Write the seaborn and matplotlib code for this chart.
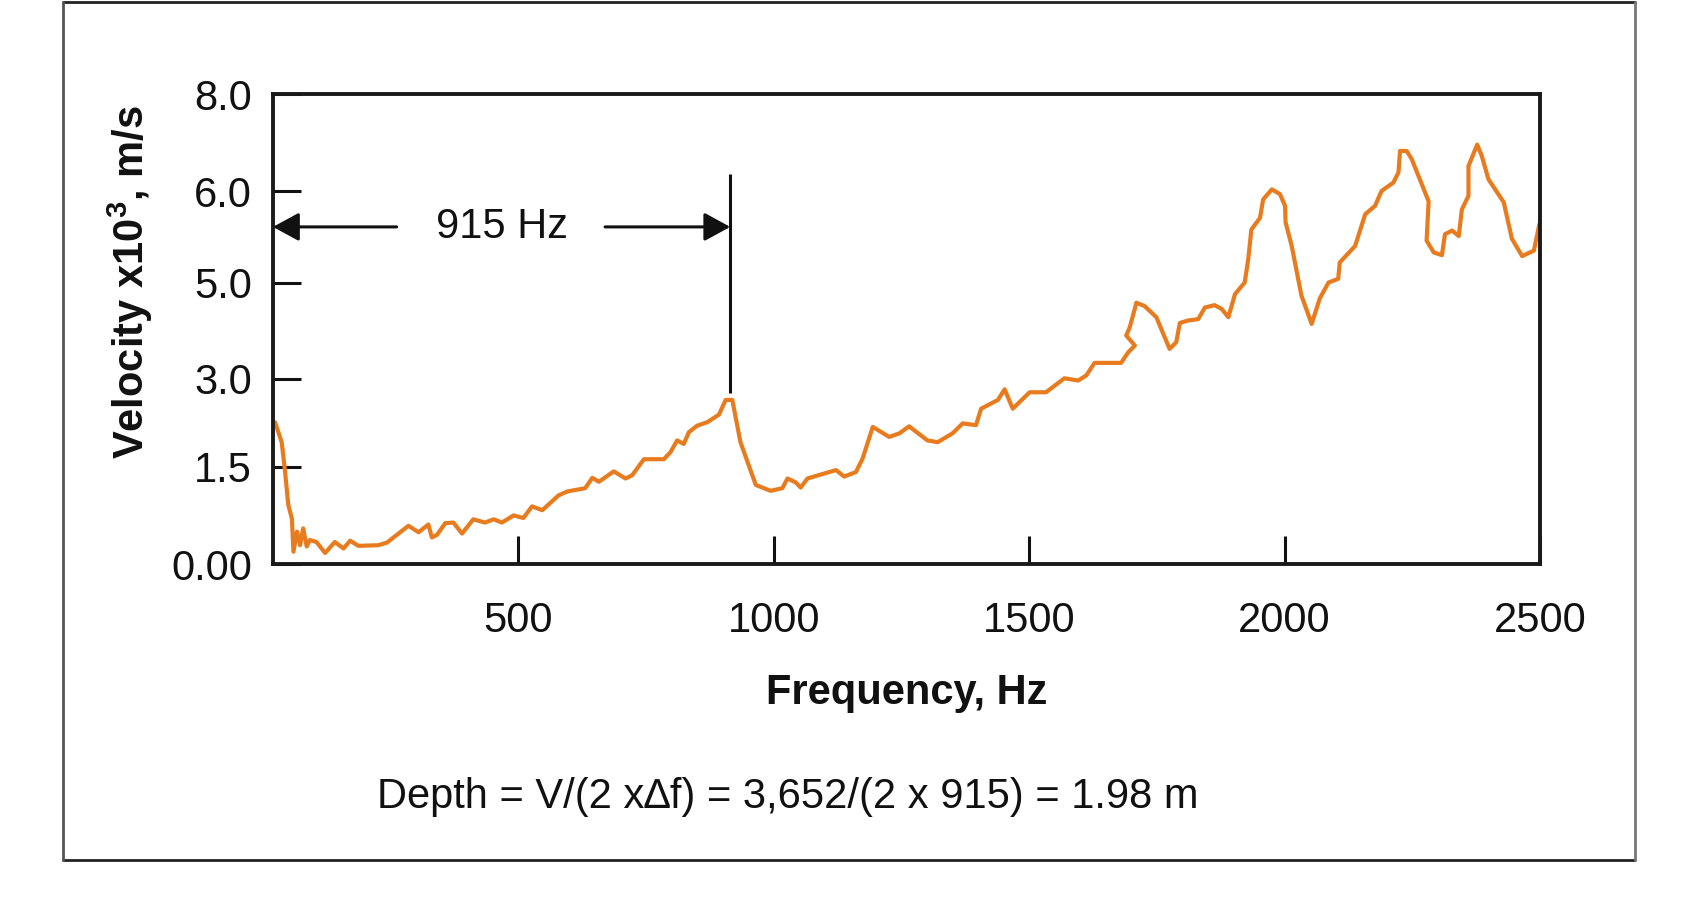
import numpy as np
import seaborn as sns
import matplotlib.pyplot as plt
from matplotlib.lines import Line2D

# curve (Hz, x10^3 m/s)
freq = [24, 37, 43, 50, 57, 60, 67, 73, 79, 86, 92, 105, 122, 141, 158, 171, 187,
        226, 243, 285, 305, 324, 331, 341, 357, 373, 390, 412, 435, 452, 468, 491,
        510, 527, 547, 579, 596, 631, 645, 658, 687, 710, 723, 746, 785, 798, 811,
        824, 834, 850, 870, 893, 906, 919, 935, 965, 994, 1017, 1027, 1043, 1053,
        1066, 1092, 1122, 1138, 1161, 1174, 1194, 1226, 1246, 1265, 1301, 1321,
        1350, 1370, 1396, 1406, 1439, 1452, 1468, 1501, 1533, 1569, 1596, 1612,
        1628, 1680, 1694, 1707, 1690, 1697, 1710, 1726, 1749, 1775, 1788, 1795,
        1811, 1831, 1844, 1863, 1877, 1890, 1903, 1922, 1929, 1935, 1952, 1958,
        1975, 1991, 2001, 2002, 2014, 2033, 2053, 2069, 2086, 2105, 2108, 2138,
        2158, 2177, 2190, 2213, 2223, 2226, 2239, 2249, 2282, 2278, 2292, 2308,
        2314, 2328, 2341, 2347, 2360, 2360, 2377, 2386, 2399, 2429, 2445, 2465,
        2488, 2498, 2507]
velocity = [2.26, 1.92, 1.47, 0.91, 0.70, 0.19, 0.50, 0.29, 0.55, 0.27, 0.37, 0.34,
            0.17, 0.34, 0.24, 0.36, 0.28, 0.29, 0.33, 0.59, 0.49, 0.61, 0.41, 0.45,
            0.63, 0.64, 0.47, 0.69, 0.64, 0.69, 0.64, 0.75, 0.71, 0.89, 0.83, 1.06,
            1.12, 1.17, 1.33, 1.27, 1.43, 1.32, 1.37, 1.63, 1.63, 1.75, 1.95, 1.89,
            2.09, 2.20, 2.26, 2.39, 2.64, 2.64, 1.92, 1.22, 1.13, 1.17, 1.32, 1.26,
            1.18, 1.32, 1.38, 1.45, 1.35, 1.42, 1.64, 2.18, 2.01, 2.07, 2.19, 1.95,
            1.92, 2.07, 2.24, 2.21, 2.49, 2.64, 2.82, 2.49, 2.77, 2.77, 3.01, 2.97,
            3.07, 3.33, 3.33, 3.55, 3.69, 3.90, 4.07, 4.58, 4.51, 4.28, 3.62, 3.76,
            4.16, 4.21, 4.24, 4.48, 4.53, 4.45, 4.28, 4.76, 5.00, 5.26, 5.58, 5.71,
            5.91, 6.04, 5.97, 5.84, 5.66, 5.40, 4.73, 4.14, 4.67, 5.00, 5.04, 5.22,
            5.40, 5.75, 5.84, 6.01, 6.18, 6.39, 6.83, 6.83, 6.66, 5.89, 5.46, 5.33,
            5.30, 5.53, 5.57, 5.51, 5.80, 5.95, 6.52, 6.96, 6.73, 6.25, 5.88, 5.48,
            5.29, 5.35, 5.62, 5.79]

y_ticks = [0, 1.5, 3.0, 5.0, 6.0, 8.0]
y_labels = ["0.00", "1.5", "3.0", "5.0", "6.0", "8.0"]
x_ticks = [500, 1000, 1500, 2000, 2500]
peak_hz = 915

# the y axis of the original is not linear: ticks sit at (nearly) even spacing
tick_pos = [0, 97.4, 185.7, 282.2, 373.6, 471.2]

sns.set_style("white")
plt.rcParams['font.family'] = ['Liberation Sans', 'DejaVu Sans']
plt.rcParams['mathtext.fontset'] = 'custom'
plt.rcParams['mathtext.rm'] = 'Liberation Sans'
plt.rcParams['mathtext.bf'] = 'Liberation Sans:bold'
plt.rcParams['text.color'] = '#111111'
plt.rcParams['axes.labelcolor'] = '#111111'
plt.rcParams['xtick.color'] = '#111111'
plt.rcParams['ytick.color'] = '#111111'

fs = 30
fig = plt.figure(figsize=(16.96, 9.06), dpi=100)
ax = fig.add_axes([273 / 1696, 1 - 564 / 906, 1267 / 1696, 470 / 906])

ax.set_yscale('function', functions=(lambda v: np.interp(v, y_ticks, tick_pos),
                                     lambda p: np.interp(p, tick_pos, y_ticks)))

sns.lineplot(x=freq, y=velocity, sort=False, estimator=None,
             color='#E97B1F', linewidth=3.0, ax=ax)
ax.lines[0].set_solid_joinstyle('round')

ax.set_xlim(20, 2500)
ax.set_ylim(0, 8)
ax.set_xticks(x_ticks)
ax.set_xticklabels([str(t) for t in x_ticks])
ax.set_yticks(y_ticks)
ax.set_yticklabels(y_labels)
ax.minorticks_off()
ax.tick_params(axis='both', direction='in', length=20, width=2.2,
               labelsize=fs, bottom=True, left=True)
ax.tick_params(axis='y', pad=15)
ax.tick_params(axis='x', pad=27)
for s in ax.spines.values():
    s.set_visible(True)
    s.set_linewidth(2.8)
    s.set_color('#1a1a1a')

ax.set_xlabel("Frequency, Hz", fontsize=fs, fontweight='bold', va='center')
ax.xaxis.set_label_coords(0.5, -0.274)
ax.set_ylabel(r"Velocity x10$^{\mathbf{3}}$, m/s", fontsize=fs,
              fontweight='bold', va='center')
ax.yaxis.set_label_coords(-0.113, 0.6)

# 915 Hz marker
ax.plot([peak_hz, peak_hz], [2.75, 6.35], color='#111111', lw=2.2,
        solid_capstyle='butt')
arr = dict(arrowstyle='-|>,head_length=0.55,head_width=0.3', color='#111111',
           lw=2.2, shrinkA=0, shrinkB=0, mutation_scale=29)
ax.annotate('', xy=(20, 5.61), xytext=(262, 5.61), arrowprops=arr)
ax.annotate('', xy=(peak_hz, 5.61), xytext=(670, 5.61), arrowprops=arr)
ax.text(468, 5.61, "915 Hz", fontsize=fs, ha='center', va='center')

fig.text(788 / 1696, 1 - 797 / 906,
         "Depth = V/(2 x\u2206f) = 3,652/(2 x 915) = 1.98 m",
         fontsize=fs, ha='center', va='center')

# outer frame
x0, x1 = 63 / 1696, 1635 / 1696
y0, y1 = 1 - 860 / 906, 1 - 1.5 / 906
for xs, ys, c in [([x0, x1], [y1, y1], '#222222'), ([x0, x1], [y0, y0], '#222222'),
                  ([x0, x0], [y0, y1], '#555555'), ([x1, x1], [y0, y1], '#777777')]:
    fig.add_artist(Line2D(xs, ys, transform=fig.transFigure, color=c, lw=2))

fig.savefig("out.png", dpi=100)
